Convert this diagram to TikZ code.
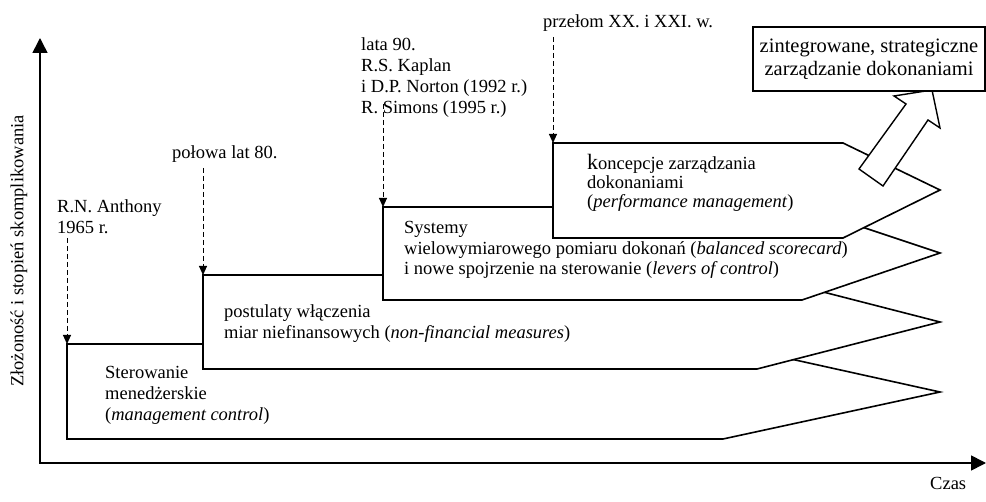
\documentclass[tikz,border=0pt]{standalone}
\usepackage{fontspec}
\setmainfont{Liberation Serif}
\usetikzlibrary{arrows.meta}
\begin{document}
\begin{tikzpicture}[x=1pt,y=-1pt,
  font=\fontsize{18.5}{21}\selectfont,
  stage/.style={draw, fill=white, line width=1.6pt, line join=miter},
  axisline/.style={line width=1.6pt, line join=miter, {Triangle[length=15pt,width=15pt]}-{Triangle[length=15pt,width=15pt]}},
  dasharrow/.style={line width=1pt, dash pattern=on 5pt off 3pt, -{Triangle[length=9pt,width=8pt]}},
  lbl/.style={inner sep=0pt, anchor=base west, align=left}
]
\useasboundingbox (0,0) rectangle (986,502);

% axes
\coordinate (O) at (40,463);
\coordinate (ytop) at (40,38);
\coordinate (xend) at (986,463);
\draw[axisline] (ytop) -- (O) -- (xend);
\node[rotate=90, inner sep=0pt] (ylab) at (19,251) {Złożoność i stopień skomplikowania};
\node[lbl] (czas) at (930,490) {Czas};

% stages
\draw[stage] (67,344) -- (723,344) -- (940,392) -- (723,439) -- (67,439) -- cycle;
\draw[stage] (203,275) -- (757,275) -- (940,322) -- (757,369) -- (203,369) -- cycle;
\draw[stage] (383,207) -- (802,207) -- (940,253) -- (802,300) -- (383,300) -- cycle;
\draw[stage] (553,143) -- (843,143) -- (940,190) -- (843,238) -- (553,238) -- cycle;

\coordinate (s1) at (67,344);
\coordinate (s2) at (203,275);
\coordinate (s3) at (383,207);
\coordinate (s4) at (553,143);

% hollow arrow
\draw[stage, line width=1.4pt] (859,169) -- (906,104) -- (894,96) -- (932,90) -- (940,128) -- (928,120) -- (883,186) -- cycle;

% goal box
\node[draw, fill=white, line width=1.4pt, minimum width=232pt, minimum height=64pt, align=center, inner sep=0pt,
      font=\fontsize{20.5}{23}\selectfont] (goal) at (869,59) {zintegrowane, strategiczne\\zarządzanie dokonaniami};

% stage texts (base anchor = baseline of last line)
\node[lbl] (t1) at (105,421) {Sterowanie\\menedżerskie\\(\textit{management control})};
\node[lbl] (t2) at (224,339) {postulaty włączenia\\miar niefinansowych (\textit{non-financial measures})};
\node[lbl, font=\fontsize{18.5}{20.5}\selectfont] (t3) at (404,275) {Systemy\\wielowymiarowego pomiaru dokonań (\textit{balanced scorecard})\\i nowe spojrzenie na sterowanie (\textit{levers of control})};
\node[lbl, font=\fontsize{18.5}{19}\selectfont] (t4) at (587,208) {{\fontsize{22}{19}\selectfont k}oncepcje zarządzania\\dokonaniami\\(\textit{performance management})};

% time labels
\node[lbl] (l1) at (57,234) {R.N. Anthony\\1965 r.};
\node[lbl] (l2) at (172,159) {połowa lat 80.};
\node[lbl] (l3) at (361,114) {lata 90.\\R.S. Kaplan\\i D.P. Norton (1992 r.)\\R. Simons (1995 r.)};
\node[lbl] (l4) at (543,28) {przełom XX. i XXI. w.};

% dashed arrows
\coordinate (d1) at (67,238);
\coordinate (d2) at (203,168);
\coordinate (d3) at (383,104);
\coordinate (d4) at (553,37);
\draw[dasharrow] (d1) -- (s1);
\draw[dasharrow] (d2) -- (s2);
\draw[dasharrow] (d3) -- (s3);
\draw[dasharrow] (d4) -- (s4);
\end{tikzpicture}
\end{document}
